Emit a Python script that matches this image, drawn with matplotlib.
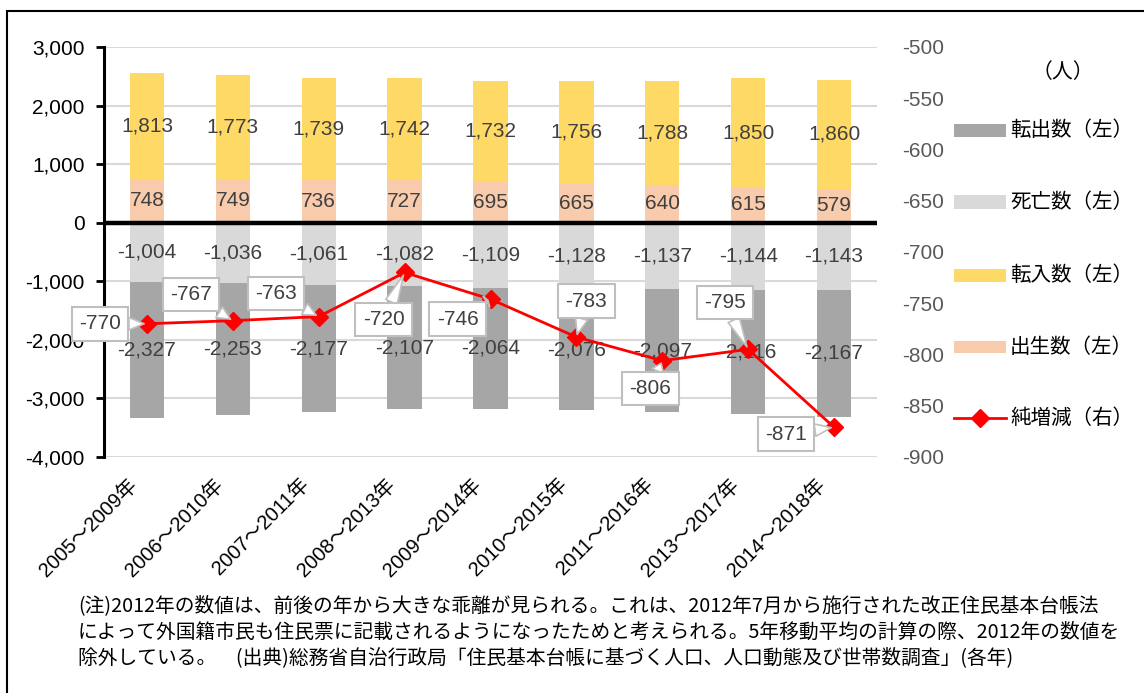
import matplotlib
matplotlib.use("Agg")
import matplotlib.pyplot as plt
from matplotlib.patches import Rectangle
from matplotlib.lines import Line2D
import matplotlib.transforms as mtransforms
import numpy as np

plt.rcParams['font.family'] = ['Liberation Sans', 'Noto Sans CJK JP', 'DejaVu Sans']

categories = ["2005～2009年", "2006～2010年", "2007～2011年", "2008～2013年", "2009～2014年",
              "2010～2015年", "2011～2016年", "2013～2017年", "2014～2018年"]
births = [748, 749, 736, 727, 695, 665, 640, 615, 579]
in_mig = [1813, 1773, 1739, 1742, 1732, 1756, 1788, 1850, 1860]
deaths = [-1004, -1036, -1061, -1082, -1109, -1128, -1137, -1144, -1143]
out_mig = [-2327, -2253, -2177, -2107, -2064, -2076, -2097, -2116, -2167]
net = [-770, -767, -763, -720, -746, -783, -806, -795, -871]

left_ticks = [3000, 2000, 1000, 0, -1000, -2000, -3000, -4000]
right_ticks = [-500, -550, -600, -650, -700, -750, -800, -850, -900]

legend_labels = ["転出数（左）", "死亡数（左）", "転入数（左）", "出生数（左）", "純増減（右）"]
unit_label = "（人）"
note_lines = [
    "(注)2012年の数値は、前後の年から大きな乖離が見られる。これは、2012年7月から施行された改正住民基本台帳法",
    "によって外国籍市民も住民票に記載されるようになったためと考えられる。5年移動平均の計算の際、2012年の数値を",
    "除外している。　(出典)総務省自治行政局「住民基本台帳に基づく人口、人口動態及び世帯数調査」(各年)",
]

C_OUT = "#a6a6a6"
C_DEATH = "#d9d9d9"
C_IN = "#ffd966"
C_BIRTH = "#f8cbad"
C_NET = "#ff0000"
C_LBL = "#404040"

W, H = 1144, 693
fig = plt.figure(figsize=(W / 100, H / 100), dpi=100)

def fx(px):
    return px / W

def fy(py):
    return 1 - py / H

ax = fig.add_axes([fx(104), fy(457), fx(877) - fx(104), fy(47) - fy(457)])
ax2 = ax.twinx()

x = np.arange(len(categories))
bw = 0.4
b = np.array(births)
inm = np.array(in_mig)
d = np.array(deaths)
o = np.array(out_mig)

ax.bar(x, b, bw, color=C_BIRTH, zorder=2)
ax.bar(x, inm, bw, bottom=b, color=C_IN, zorder=2)
ax.bar(x, d, bw, color=C_DEATH, zorder=2)
ax.bar(x, o, bw, bottom=d, color=C_OUT, zorder=2)

fs = 15
for i in range(len(x)):
    ax.text(x[i], b[i] / 2, f"{b[i]:,}", ha='center', va='center', fontsize=fs, color=C_LBL, zorder=3)
    ax.text(x[i], b[i] + inm[i] / 2, f"{inm[i]:,}", ha='center', va='center', fontsize=fs, color=C_LBL, zorder=3)
    ax.text(x[i], d[i] / 2, f"{d[i]:,}", ha='center', va='center', fontsize=fs, color=C_LBL, zorder=3)
    ax.text(x[i], d[i] + o[i] / 2, f"{o[i]:,}", ha='center', va='center', fontsize=fs, color=C_LBL, zorder=3)

ax.set_ylim(-4000, 3000)
ax.set_xlim(-0.5, len(x) - 0.5)
ax.set_yticks(left_ticks)
ax.set_yticklabels([f"{t:,}" for t in left_ticks], fontsize=fs, color='black')
ax.yaxis.grid(True, color='#d9d9d9', lw=1.5, zorder=0)
ax.set_axisbelow(True)
ax.axhline(0, color='black', lw=3.2, zorder=4)
for s in ['top', 'right', 'bottom']:
    ax.spines[s].set_visible(False)
ax.spines['left'].set_linewidth(2.2)
ax.tick_params(axis='y', direction='out', length=6, width=2, pad=8)
ax.set_xticks(x)
ax.set_xticklabels(categories, rotation=45, ha='right', va='top', rotation_mode='anchor', fontsize=14.5)
ax.tick_params(axis='x', length=0, pad=13)
shift = mtransforms.ScaledTranslation(-19 / 100, 0, fig.dpi_scale_trans)
for lab in ax.get_xticklabels():
    lab.set_transform(lab.get_transform() + shift)

ax2.plot(x, net, color=C_NET, lw=2, marker='D', markersize=9, zorder=5)
ax2.set_ylim(-900, -500)
ax2.set_yticks(right_ticks)
ax2.set_yticklabels([str(t) for t in right_ticks], fontsize=fs, color='#595959')
ax2.tick_params(axis='y', length=0, pad=18)
for s in ['top', 'right', 'bottom', 'left']:
    ax2.spines[s].set_visible(False)

offsets = [(-47, 0), (-42, 26), (-43, 23), (-21, -47), (-33, -20),
           (10, 36), (-12, -28), (-23, 47), (-48, -7)]
for i, v in enumerate(net):
    ax2.annotate(f"{v}", xy=(x[i], v), xytext=offsets[i], textcoords='offset pixels',
                 ha='center', va='center', fontsize=fs, color=C_LBL, zorder=6,
                 bbox=dict(boxstyle='square,pad=0.35', fc='white', ec='#bfbfbf', lw=1.5),
                 arrowprops=dict(arrowstyle='wedge,tail_width=0.6', fc='white', ec='#bfbfbf',
                                 lw=1.2, shrinkA=0, shrinkB=2))

# Legend (manual)
leg_y = [130, 202, 275, 347, 418]
leg_cols = [C_OUT, C_DEATH, C_IN, C_BIRTH]
for k in range(4):
    fig.patches.append(Rectangle((fx(954), fy(leg_y[k] + 6.5)), fx(1006) - fx(954), fy(leg_y[k] - 6.5) - fy(leg_y[k] + 6.5),
                                 transform=fig.transFigure, fc=leg_cols[k], ec='none'))
fig.lines.append(Line2D([fx(954), fx(1006)], [fy(leg_y[4])] * 2, color=C_NET, lw=2, transform=fig.transFigure))
fig.lines.append(Line2D([fx(980)], [fy(leg_y[4])], color=C_NET, marker='D', markersize=9, transform=fig.transFigure))
for k, lab in enumerate(legend_labels):
    fig.text(fx(1010), fy(leg_y[k]), lab, ha='left', va='center', fontsize=14.8,
             family=['Noto Sans CJK JP'], color='black')
fig.text(fx(1063), fy(72), unit_label, ha='center', va='center', fontsize=15, family=['Noto Sans CJK JP'])

for j, line in enumerate(note_lines):
    fig.text(fx(78), fy(606 + 26 * j), line, ha='left', va='center', fontsize=14.2,
             family=['Noto Sans CJK JP'], color='black')

# frame
fig.patches.append(Rectangle((fx(7), fy(H + 20)), fx(W + 20) - fx(7), fy(11) - fy(H + 20),
                             transform=fig.transFigure, fc='none', ec='black', lw=1.5))

fig.savefig("out.png", dpi=100)
